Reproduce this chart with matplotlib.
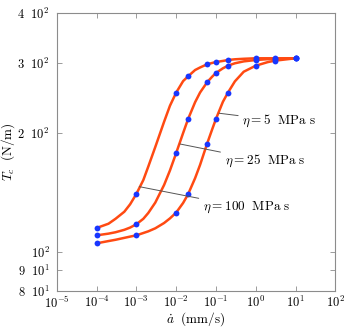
"""
Tension critique T_c vs vitesse d'avancée, trois viscosités.
"""
import matplotlib
matplotlib.use("Agg")
import matplotlib.pyplot as plt
from matplotlib.ticker import FixedLocator, FixedFormatter, LogLocator, NullFormatter

plt.rcParams["mathtext.fontset"] = "cm"
plt.rcParams["font.family"] = "serif"

COLOR_LINE = "#ff4a12"
COLOR_PTS = "#1836ff"
COLOR_AXIS = "#8c8c8c"

# courbes
RATE_LINE = [1e-4, 2e-4, 3e-4, 5e-4, 7e-4, 1e-3, 1.5e-3, 2e-3, 3e-3, 5e-3, 7e-3,
             1e-2, 1.5e-2, 2e-2, 3e-2, 4e-2, 6e-2, 8e-2, 0.1, 0.15, 0.2, 0.3,
             0.5, 1, 2, 3, 10]
LINE_100 = [115.1, 118.0, 121.4, 126.5, 132.1, 140.2, 152.0, 164.4, 184.2, 213.3,
            233.9, 252.3, 269.9, 277.5, 287.8, 292.1, 297.5, 299.8, 301.5, 303.4,
            305.0, 306.3, 307.2, 308.1, 308.1, 308.1, 308.1]
LINE_25 = [110.3, 111.4, 112.3, 113.9, 115.4, 117.6, 121.4, 125.6, 133.4, 147.8,
           160.7, 177.6, 199.7, 216.6, 238.8, 252.6, 268.0, 276.7, 282.9, 290.7,
           295.1, 299.3, 302.6, 305.0, 306.5, 306.9, 308.1]
LINE_5 = [105.3, 106.7, 107.5, 108.7, 109.5, 110.3, 111.8, 112.9, 114.9, 118.5,
          121.7, 125.8, 133.1, 140.0, 153.7, 166.0, 187.7, 203.6, 216.6, 239.4,
          252.3, 269.5, 285.0, 295.1, 301.3, 303.8, 308.1]

# points de simulation
RATE_PTS = [1e-4, 1e-3, 1e-2, 2e-2, 6e-2, 1e-1, 2e-1, 1, 3, 10]
PTS_100 = [115.1, 140.2, 252.3, 277.5, 297.5, 301.5, 305.0, 308.1, 308.1, 308.1]
PTS_25 = [110.3, 117.6, 177.6, 216.6, 268.0, 282.9, 295.1, 305.0, 306.9, 308.1]
PTS_5 = [105.3, 110.3, 125.8, 140.0, 187.7, 216.6, 252.3, 295.1, 303.8, 308.1]

Y_TICKS = [80, 90, 100, 200, 300, 400]
Y_LABELS = [r"$8\ \ 10^1$", r"$9\ \ 10^1$", r"$10^2$", r"$2\ \ 10^2$",
            r"$3\ \ 10^2$", r"$4\ \ 10^2$"]
X_TICKS = [1e-5, 1e-4, 1e-3, 1e-2, 1e-1, 1, 10, 100]
X_LABELS = [r"$10^{-5}$", r"$10^{-4}$", r"$10^{-3}$", r"$10^{-2}$", r"$10^{-1}$",
            r"$10^{0}$", r"$10^{1}$", r"$10^{2}$"]

# (label, point sur la courbe, position du texte)
ANNOTS = [
    (r"$\eta = 5\ \ \mathrm{MPa\ s}$", (0.12, 224), (0.46, 214.5)),
    (r"$\eta = 25\ \ \mathrm{MPa\ s}$", (0.0125, 187.4), (0.165, 169.8)),
    (r"$\eta = 100\ \ \mathrm{MPa\ s}$", (1.19e-3, 146.3), (0.047, 129.5)),
]

fig = plt.figure(figsize=(3.46, 3.28), dpi=100)
ax = fig.add_axes([0.1639, 0.1137, 0.8052, 0.8458])

for line in (LINE_100, LINE_25, LINE_5):
    ax.plot(RATE_LINE, line, color=COLOR_LINE, linewidth=1.8, zorder=2)
for pts in (PTS_100, PTS_25, PTS_5):
    ax.plot(RATE_PTS, pts, "o", color=COLOR_PTS, markersize=4.2,
            markeredgewidth=0, zorder=3)

for text, xy, xytext in ANNOTS:
    ax.annotate(text, xy=xy, xytext=xytext, fontsize=9.5, ha="left", va="center",
                arrowprops=dict(arrowstyle="-", color="#555555", linewidth=0.7,
                                shrinkA=1, shrinkB=0))

ax.set_xscale("log")
ax.set_yscale("log")
ax.set_xlim(1e-5, 1e2)
ax.set_ylim(80, 400)

ax.xaxis.set_major_locator(FixedLocator(X_TICKS))
ax.xaxis.set_major_formatter(FixedFormatter(X_LABELS))
ax.xaxis.set_minor_locator(LogLocator(base=10, subs=range(2, 10)))
ax.xaxis.set_minor_formatter(NullFormatter())
ax.yaxis.set_major_locator(FixedLocator(Y_TICKS))
ax.yaxis.set_major_formatter(FixedFormatter(Y_LABELS))
ax.yaxis.set_minor_locator(FixedLocator([]))

ax.tick_params(which="both", direction="in", top=True, right=True,
               color=COLOR_AXIS, labelsize=9, width=0.6)
ax.tick_params(which="major", length=3.5)
ax.tick_params(which="minor", length=2)
ax.tick_params(axis="x", pad=3)
ax.tick_params(axis="y", pad=5)
for sp in ax.spines.values():
    sp.set_color(COLOR_AXIS)
    sp.set_linewidth(0.8)

ax.set_xlabel(r"$\dot{a}\ \ \mathrm{(mm/s)}$", fontsize=9.5, labelpad=0)
ax.set_ylabel(r"$T_c\ \ \mathrm{(N/m)}$", fontsize=9.5, labelpad=0)

fig.savefig("out.png", dpi=100)
plt.close(fig)
